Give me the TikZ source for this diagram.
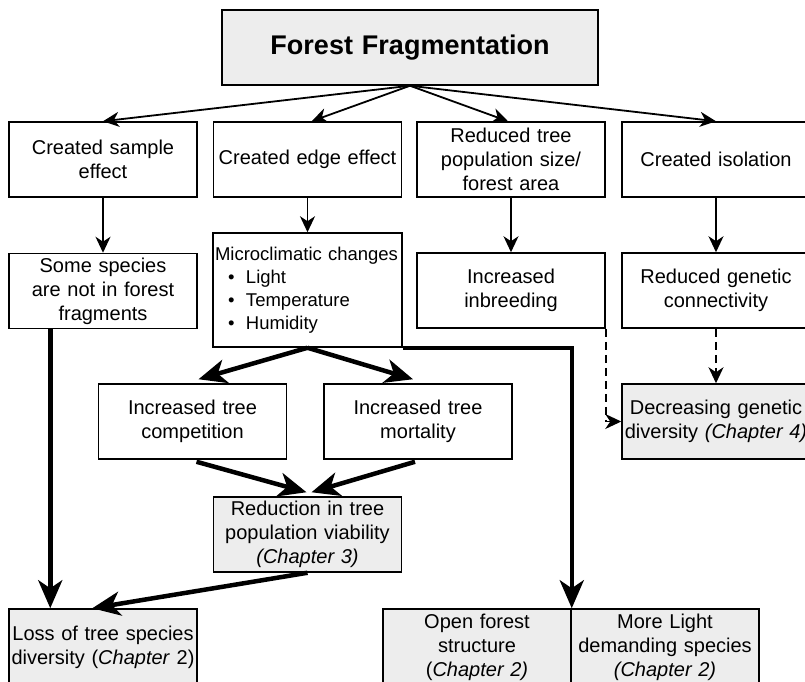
\documentclass[tikz,border=0pt]{standalone}
\usepackage{fontspec}
\setmainfont{Liberation Sans}
\usetikzlibrary{arrows.meta}
\definecolor{boxgray}{HTML}{EDEDED}
\tikzset{
  box/.style={draw=black, line width=1.5pt, minimum height=75pt, align=center,
    inner sep=2pt, text width=184pt, font=\fontsize{20}{24}\selectfont},
  gbox/.style={box, fill=boxgray},
  thinarrow/.style={line width=1.8pt, -{Stealth[length=16pt,width=15pt,inset=5pt]}},
  thickarrow/.style={line width=4.5pt, -{Stealth[length=28pt,width=24pt,inset=8pt]}},
  dasharrow/.style={thinarrow, dash pattern=on 8pt off 5pt},
}
\begin{document}
\begin{tikzpicture}[x=1pt,y=-1pt]
\useasboundingbox (0,0) rectangle (805,681);
\fill[white] (0,0) rectangle (805,681);
\clip (0,0) rectangle (805,681);

% top
\node[gbox, text width=372pt, font=\fontsize{27}{31}\bfseries] (top) at (410,47.5) {Forest Fragmentation};

% row 1
\node[box] (b1) at (103,159.5) {Created sample\\effect};
\node[box] (b2) at (307.5,159.5) {Created edge effect};
\node[box] (b3) at (511,159.5) {Reduced tree\\population size/\\forest area};
\node[box] (b4) at (716,159.5) {Created isolation};

% row 2
\node[box] (s1) at (103,291) {Some species\\are not in forest\\fragments};
\node[box, minimum height=114pt, align=left, text width=185pt, inner sep=2pt,
  font=\fontsize{18.5}{23}\selectfont] (mc) at (307.5,290)
  {Microclimatic changes\\
   \hspace*{13pt}\makebox[18pt][l]{•}Light\\
   \hspace*{13pt}\makebox[18pt][l]{•}Temperature\\
   \hspace*{13pt}\makebox[18pt][l]{•}Humidity};
\node[box] (inb) at (511,290.5) {Increased\\inbreeding};
\node[box] (rgc) at (716,290.5) {Reduced genetic\\connectivity};

% row 3
\node[box] (comp) at (192.5,421.5) {Increased tree\\competition};
\node[box] (mort) at (418,421.5) {Increased tree\\mortality};
\node[gbox] (dec) at (716,421.5) {Decreasing genetic\\diversity \textit{(Chapter 4)}};

% row 4
\node[gbox] (red) at (307.5,534.5) {Reduction in tree\\population viability\\\textit{(Chapter 3)}};

% bottom
\node[gbox, minimum height=76pt] (loss) at (103,647) {Loss of tree species\\diversity (\textit{Chapter} 2)};
\node[gbox, minimum height=76pt] (open) at (477,647) {Open forest\\structure\\(\textit{Chapter 2)}};
\node[gbox, minimum height=76pt] (light) at (665,647) {More Light\\demanding species\\\textit{(Chapter 2)}};

% connectors
\draw[thinarrow] (top.south) -- (b1.north);
\draw[thinarrow] (top.south) -- ([xshift=4pt]b2.north);
\draw[thinarrow] (top.south) -- ([xshift=-3pt]b3.north);
\draw[thinarrow] (top.south) -- (b4.north);

\draw[thinarrow] (b1.south) -- (s1.north);
\draw[thinarrow] (b2.south) -- (mc.north);
\draw[thinarrow] (b3.south) -- (inb.north);
\draw[thinarrow] (b4.south) -- (rgc.north);

\draw[thickarrow] (mc.south) -- ([xshift=6pt,yshift=4pt]comp.north);
\draw[thickarrow] (mc.south) -- ([xshift=-5pt,yshift=4pt]mort.north);
\draw[thickarrow] ([xshift=4pt,yshift=-2pt]comp.south) -- ([xshift=-1pt,yshift=4pt]red.north);
\draw[thickarrow] ([xshift=-3pt,yshift=-2pt]mort.south) -- ([xshift=4pt,yshift=4pt]red.north);

\draw[thickarrow] ([xshift=42pt]s1.south west) -- ([xshift=42pt]loss.north west);
\draw[thickarrow] (red.south) -- ([xshift=84pt]loss.north west);
\draw[thickarrow] (mc.south east) -| (open.north east);

\draw[dasharrow] (inb.south east) |- (dec.west);
\draw[dasharrow] (rgc.south) -- (dec.north);
\end{tikzpicture}
\end{document}
